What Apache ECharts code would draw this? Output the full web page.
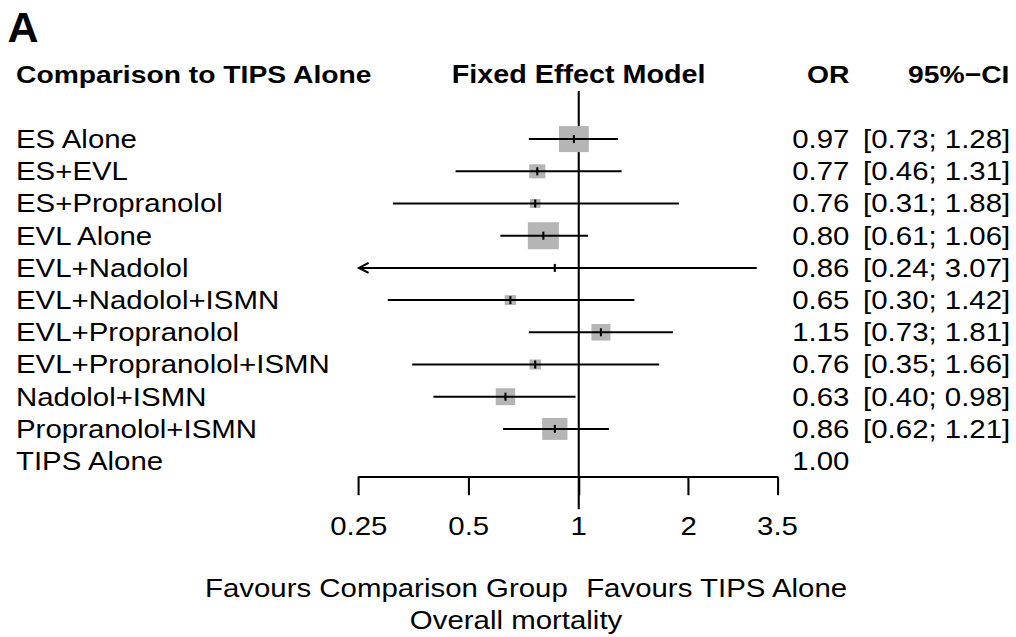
<!DOCTYPE html>
<html><head><meta charset="utf-8">
<script src="https://cdn.jsdelivr.net/npm/echarts@6/dist/echarts.min.js"></script>
<style>
html,body{margin:0;padding:0;background:#fff;overflow:hidden;width:1016px;height:637px}
#chart{width:884px;height:637px;transform:scaleX(1.1493);transform-origin:0 0;}
</style></head><body><div id="chart"></div>
<script>
const categories = ["ES Alone","ES+EVL","ES+Propranolol","EVL Alone","EVL+Nadolol","EVL+Nadolol+ISMN","EVL+Propranolol","EVL+Propranolol+ISMN","Nadolol+ISMN","Propranolol+ISMN","TIPS Alone"];
const orValues = [0.97,0.77,0.76,0.80,0.86,0.65,1.15,0.76,0.63,0.86,1.00];
const ciLower = [0.73,0.46,0.31,0.61,0.24,0.30,0.73,0.35,0.40,0.62,null];
const ciUpper = [1.28,1.31,1.88,1.06,3.07,1.42,1.81,1.66,0.98,1.21,null];
const weights = [23.0,6.7,2.8,24.8,0.3,3.4,9.3,3.4,9.8,16.5,null];
const xTicks = [0.25,0.5,1,2,3.5];
const xMin = 0.25, xMax = 3.5;
const panelLabel = "A";
const colHeaderLeft = "Comparison to TIPS Alone";
const colHeaderModel = "Fixed Effect Model";
const colHeaderOR = "OR";
const colHeaderCI = "95%\u2212CI";
const labelLeft = "Favours Comparison Group";
const labelRight = "Favours TIPS Alone";
const xLabel = "Overall mortality";

const FONT = "'Liberation Sans', Arial, Helvetica, sans-serif";
const FS = 25.6;
const FSB = 24.6;

const rows = [];
categories.forEach((c, i) => {
  if (ciLower[i] != null) rows.push([i, orValues[i], ciLower[i], ciUpper[i], weights[i]]);
});

function renderRow(params, api) {
  const row = api.value(0);
  const est = api.value(1), lo = api.value(2), hi = api.value(3), w = api.value(4);
  const p = api.coord([est, row]);
  const y = p[1];
  const xLo = api.coord([Math.max(lo, xMin), row])[0];
  const xHi = api.coord([Math.min(hi, xMax), row])[0];
  const side = 5.42 * Math.sqrt(w);
  const children = [
    {type:'rect', shape:{x:p[0]-side/2, y:y-side/2, width:side, height:side}, style:{fill:'#b5b5b5'}},
    {type:'line', shape:{x1:xLo, y1:y, x2:xHi, y2:y}, style:{stroke:'#000', lineWidth:2}},
    {type:'line', shape:{x1:p[0], y1:y-4, x2:p[0], y2:y+4}, style:{stroke:'#000', lineWidth:1.8}}
  ];
  if (lo < xMin) {
    children.push({type:'polyline', shape:{points:[[xLo+8.5,y-5],[xLo,y],[xLo+8.5,y+5]]}, style:{stroke:'#000', lineWidth:1.8, fill:null}});
  }
  if (hi > xMax) {
    children.push({type:'polyline', shape:{points:[[xHi-8.5,y-5],[xHi,y],[xHi-8.5,y+5]]}, style:{stroke:'#000', lineWidth:1.8, fill:null}});
  }
  return {type:'group', children};
}

function renderRef(params, api) {
  const x = api.coord([api.value(0), 0])[0];
  const cs = params.coordSys;
  return {type:'line', shape:{x1:x, y1:cs.y-32, x2:x, y2:cs.y+cs.height+32}, style:{stroke:'#000', lineWidth:1.8}};
}

const txt = (text, x, y, align, weight, size) => ({
  type:'text', x, y, silent:true,
  style:{text, x:0, y:0, fill:'#000', fontFamily:FONT, fontSize:size||FS, fontWeight:weight||'normal', align, verticalAlign:'middle'}
});

const chart = echarts.init(document.getElementById('chart'), null, {renderer:'svg', width:884, height:637});
chart.setOption({
  animation:false,
  backgroundColor:'#fff',
  textStyle:{fontFamily:FONT, color:'#000'},
  grid:{left:312.2, top:123, width:364.3, height:354.2},
  xAxis:{
    type:'log', logBase:2, min:xMin, max:xMax,
    axisLine:{show:true, lineStyle:{color:'#000', width:2}},
    axisTick:{show:true, length:18, customValues:xTicks, lineStyle:{color:'#000', width:1.8}},
    axisLabel:{customValues:xTicks, formatter:v => String(+(+v).toPrecision(6)), color:'#000', fontSize:FS, fontFamily:FONT, margin:36},
    splitLine:{show:false}, minorTick:{show:false}
  },
  yAxis:[
    {type:'category', data:categories, inverse:true,
     axisLine:{show:false}, axisTick:{show:false}, splitLine:{show:false},
     axisLabel:{interval:0, align:'left', margin:298.3, color:'#000', fontSize:FS, fontFamily:FONT}},
    {type:'category', data:categories, inverse:true, position:'right',
     axisLine:{show:false}, axisTick:{show:false}, splitLine:{show:false},
     axisLabel:{interval:0, align:'right', margin:62.6, color:'#000', fontSize:FS, fontFamily:FONT,
       formatter:(v, i) => orValues[i].toFixed(2)}},
    {type:'category', data:categories, inverse:true, position:'right',
     axisLine:{show:false}, axisTick:{show:false}, splitLine:{show:false},
     axisLabel:{interval:0, align:'right', margin:202.5, color:'#000', fontSize:FS, fontFamily:FONT,
       formatter:(v, i) => ciLower[i] == null ? '' : '[' + ciLower[i].toFixed(2) + '; ' + ciUpper[i].toFixed(2) + ']'}}
  ],
  series:[
    {type:'custom', name:'ref', renderItem:renderRef, data:[[1, 0]], encode:{x:0, y:1}, z:1, silent:true},
    {type:'custom', name:'OR', renderItem:renderRow, data:rows, encode:{x:[1,2,3], y:0}, z:2, silent:true}
  ],
  graphic:[
    Object.assign(txt(panelLabel, 6.5, 27, 'left', 'bold', 43), {scaleX:0.87}),
    txt(colHeaderLeft, 13.9, 75, 'left', 'bold', FSB),
    txt(colHeaderModel, 503.5, 75, 'center', 'bold', 25),
    txt(colHeaderOR, 739.1, 75, 'right', 'bold', FSB),
    txt(colHeaderCI, 878.3, 75, 'right', 'bold', FSB),
    txt(labelLeft, 494, 588, 'right'),
    txt(labelRight, 510, 588, 'left'),
    txt(xLabel, 449, 620, 'center')
  ]
});
</script></body></html>
